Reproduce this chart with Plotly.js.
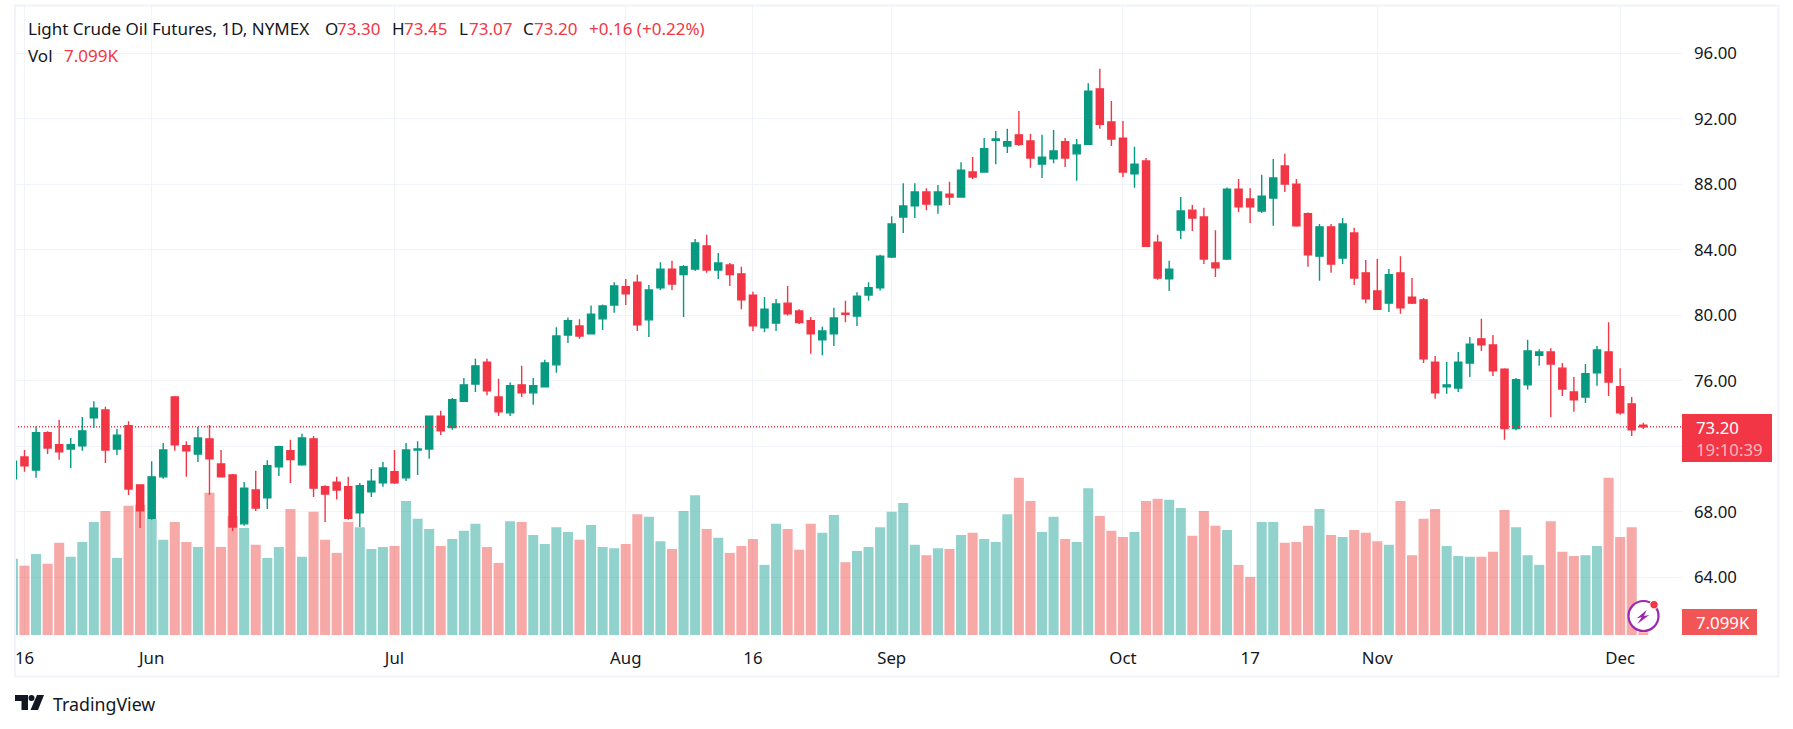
<!DOCTYPE html>
<html>
<head>
<meta charset="utf-8">
<script src="https://cdn.plot.ly/plotly-3.0.1.min.js"></script>
<style>html,body{margin:0;padding:0;background:#fff;overflow:hidden}#chart{width:1793px;height:729px}</style>
</head>
<body>
<div id="chart"></div>
<script>
const open = [70.02,71.36,70.56,72.83,72.10,71.84,72.04,73.74,74.22,71.84,73.26,69.65,67.61,70.14,75.02,72.04,71.53,72.46,70.93,70.25,67.27,69.34,68.86,70.76,71.73,70.88,72.46,69.54,69.82,69.54,67.95,69.23,69.77,70.45,70.08,71.78,71.84,73.85,73.15,74.76,75.81,77.15,75.02,74.05,75.76,75.27,75.64,76.98,78.80,79.36,78.88,79.79,
80.64,81.75,82.03,79.73,81.69,82.83,82.49,82.83,84.25,82.77,83.08,82.54,81.24,79.25,79.53,80.75,80.27,79.68,78.51,78.88,80.13,79.96,81.24,81.69,83.57,86.01,86.69,87.54,86.75,87.40,87.23,88.76,88.76,90.69,90.35,91.03,90.66,89.24,89.56,90.61,89.87,90.46,93.84,91.82,90.83,88.65,89.44,84.47,82.23,85.21,86.43,86.01,
83.20,83.45,87.71,87.11,86.38,87.17,89.13,88.02,86.21,83.62,85.41,83.51,85.04,82.60,81.49,80.75,82.60,81.12,80.95,77.15,75.64,75.56,77.09,78.57,78.20,76.72,73.09,75.76,77.57,77.77,76.78,75.33,75.02,76.50,77.77,75.64,74.60,73.30];
const high = [71.10,71.78,73.23,72.92,73.63,72.52,73.80,74.76,74.42,73.06,73.54,69.68,71.10,72.21,75.08,72.32,73.20,73.31,71.78,70.31,69.82,70.51,71.16,72.04,72.41,72.78,72.64,69.63,70.14,70.14,69.77,70.62,71.05,71.78,72.21,72.32,73.88,74.17,74.96,76.18,77.35,77.35,76.13,75.90,76.92,76.18,77.29,79.28,79.87,79.76,80.61,80.67,
82.03,82.23,82.49,81.86,83.25,83.34,83.08,84.67,84.93,83.82,83.20,82.97,81.44,81.12,81.01,81.80,80.38,79.90,79.31,80.47,80.90,81.41,82.03,83.71,86.06,88.08,88.08,87.77,87.97,88.16,89.36,89.67,90.83,91.26,91.40,92.48,91.09,91.03,91.32,90.83,90.78,94.18,95.06,93.10,91.88,90.30,89.61,84.93,83.34,87.23,86.75,86.57,
85.21,87.82,88.34,87.77,88.59,89.56,89.87,88.34,86.29,85.58,85.58,85.95,85.35,83.39,83.45,82.83,83.62,82.29,81.07,77.52,77.15,77.77,78.68,79.79,78.80,76.78,76.18,78.51,77.94,78.00,77.09,76.24,77.03,78.14,79.59,76.78,75.02,73.45];
const low = [70.02,70.45,70.08,71.53,71.19,70.68,71.73,73.12,70.99,71.47,69.03,67.01,67.52,70.02,71.73,70.14,71.05,69.03,70.14,66.84,67.15,68.06,68.18,70.19,69.77,70.82,68.91,67.38,68.75,67.52,67.07,68.91,69.54,69.71,69.88,70.25,71.24,72.69,73.01,74.71,75.33,75.13,73.85,73.85,75.02,74.54,75.64,76.50,78.31,78.57,78.88,79.11,
80.16,80.64,79.05,78.68,81.55,81.55,79.90,82.71,82.60,82.23,81.80,80.38,79.05,78.99,79.05,79.99,79.48,77.66,77.57,78.14,79.59,79.36,80.90,81.52,83.51,85.04,85.95,86.43,86.21,86.75,87.23,88.34,88.71,89.24,89.92,90.35,89.02,88.39,89.30,89.07,88.22,90.41,91.40,90.35,88.45,87.80,84.22,82.18,81.49,84.67,85.15,83.14,
82.34,83.39,86.32,85.64,86.26,85.47,87.54,85.41,82.97,82.12,82.60,83.14,81.86,80.75,80.36,80.21,80.10,80.70,77.09,74.91,75.22,75.33,76.24,77.83,76.30,72.41,72.98,75.47,76.92,73.80,75.08,74.11,74.65,75.70,75.08,73.94,72.64,73.07];
const close = [71.10,70.82,72.83,71.90,71.67,72.10,72.95,74.34,71.78,72.69,69.40,68.06,70.14,71.78,72.10,71.73,72.52,71.24,70.14,67.07,69.45,68.24,70.82,71.98,71.19,72.52,69.45,69.09,69.34,67.61,69.60,69.88,70.68,69.77,71.78,71.84,73.85,72.95,74.85,75.76,76.92,75.39,74.11,75.70,75.27,75.70,77.09,78.74,79.68,78.74,80.07,80.58,
81.80,81.32,79.42,81.55,82.83,81.92,82.97,84.42,82.77,83.20,82.49,80.95,79.36,80.38,80.70,80.10,79.56,78.88,79.05,79.85,80.07,81.18,81.69,83.62,85.58,86.69,87.54,86.80,87.54,87.23,88.87,88.45,90.18,90.78,90.61,90.46,89.61,89.67,90.04,89.61,90.41,93.70,91.68,90.78,88.76,89.24,84.22,82.29,82.83,86.38,85.95,83.45,
82.91,87.71,86.63,86.63,87.28,88.39,88.02,85.47,83.71,85.41,83.14,85.58,82.29,81.01,80.38,82.49,80.47,80.75,77.35,75.27,75.76,77.15,78.25,78.20,76.61,73.09,76.07,77.83,77.77,77.03,75.50,74.85,76.44,77.89,75.93,74.05,73.01,73.20];
const volumeK = [197,179,209,184,238,202,240,292,320,199,334,336,300,246,292,240,227,367,227,307,276,233,199,227,325,202,318,246,212,292,278,222,227,230,346,300,274,230,248,269,287,227,186,294,292,258,235,278,266,246,284,227,
224,235,312,305,242,222,320,361,274,251,212,230,248,181,287,274,220,287,264,310,188,217,227,278,318,341,233,206,224,222,258,264,248,240,312,406,346,266,305,248,240,379,307,269,253,266,346,352,349,328,256,320,
282,271,181,150,292,292,238,240,282,325,258,253,271,264,242,233,346,206,300,325,230,204,202,202,215,323,278,206,181,294,215,204,206,230,406,253,278,7.099];
const timeTickPositions = [1,12,33,53,64,76,96,107,118,139];
const timeTickLabels = ['16','Jun','Jul','Aug','16','Sep','Oct','17','Nov','Dec'];
const priceTicks = [64,68,72,76,80,84,88,92,96];
const priceTickLabels = ['64.00','68.00','','76.00','80.00','84.00','88.00','92.00','96.00'];
const lastPrice = 73.20;

const UP='#089981', DOWN='#f23645', GRID='#f0f3fa', INK='#131722', FONT='"Noto Sans", sans-serif';
const W=1793,H=729,L=15,R=1682,T=6,B=635;
const px=x=>(x-L)/(R-L), py=y=>(B-y)/(B-T);
const idx=close.map((_,i)=>i);
const P=(pts,closed=true)=>pts.map((p,i)=>(i?'L':'M')+px(p[0]).toFixed(5)+','+py(p[1]).toFixed(5)).join(' ')+(closed?' Z':'');
const paperShape=o=>Object.assign({xref:'paper',yref:'paper'},o);
const rect=(x0,y0,x1,y1,fill,line,w)=>paperShape({type:'rect',x0:px(x0),x1:px(x1),y0:py(y1),y1:py(y0),fillcolor:fill,line:{color:line||fill,width:w===undefined?0:w}});
const circ=(cx,cy,r,fill,line,w)=>paperShape({type:'circle',x0:px(cx-r),x1:px(cx+r),y0:py(cy+r),y1:py(cy-r),fillcolor:fill,line:{color:line,width:w}});
const poly=(pts,fill)=>paperShape({type:'path',path:P(pts),fillcolor:fill,line:{width:0}});
const text=(x,y,t,color,size)=>({xref:'paper',yref:'paper',x:px(x-1.5),y:py(y),xanchor:'left',yanchor:'middle',showarrow:false,text:t,align:'left',font:{family:FONT,size:size||17,color:color}});

const traces=[
 {type:'bar',x:idx,y:volumeK,xaxis:'x',yaxis:'y',hoverinfo:'skip',
  marker:{color:close.map((c,i)=>c>=open[i]?'rgba(38,166,154,0.5)':'rgba(239,83,80,0.5)'),line:{width:0}}},
 {type:'candlestick',x:idx,open:open,high:high,low:low,close:close,xaxis:'x',yaxis:'y2',
  whiskerwidth:0,
  increasing:{line:{color:UP,width:1.4},fillcolor:UP},
  decreasing:{line:{color:DOWN,width:1.4},fillcolor:DOWN}}
];
const layout={
 width:W,height:H,margin:{l:L,r:W-R,t:T,b:H-B,pad:0},paper_bgcolor:'#fff',plot_bgcolor:'#fff',
 showlegend:false,bargap:0.13,boxgap:0.12,dragmode:false,
 font:{family:FONT,color:INK,size:17},
 xaxis:{type:'linear',range:[0.18,144.35],tickmode:'array',tickvals:timeTickPositions,ticktext:timeTickLabels,
  showgrid:true,gridcolor:GRID,gridwidth:1,zeroline:false,showline:false,ticks:'',ticklabelstandoff:11,
  rangeslider:{visible:false},tickfont:{family:FONT,size:16.8,color:INK}},
 yaxis:{range:[0,1624],visible:false,showgrid:false,zeroline:false,fixedrange:true},
 yaxis2:{overlaying:'y',side:'right',range:[60.48,98.9],tickmode:'array',tickvals:priceTicks,ticktext:priceTickLabels,
  showgrid:true,gridcolor:GRID,gridwidth:1,zeroline:false,showline:false,ticks:'',ticklabelstandoff:11,
  tickfont:{family:FONT,size:16.8,color:INK}},
 shapes:[
  {type:'line',xref:'paper',yref:'y2',x0:0,x1:1,y0:lastPrice,y1:lastPrice,line:{color:DOWN,width:1.3,dash:'1px,2px'}},
  rect(15,5.5,1778.5,676.5,'rgba(0,0,0,0)',GRID,2),
  rect(1682,414,1772,462,DOWN),
  rect(1682,609,1757,635,'#f25555'),
  circ(1643.5,616,15,'#ffffff','#9c27b0',2.2),
  circ(1654,604.7,4.2,DOWN,'#ffffff',1),
  poly([[1646.7,610],[1636.7,618.3],[1641.7,617.3],[1637.3,624],[1649.3,615],[1644,616]],'#9c27b0'),
  poly([[15,695],[28,695],[28,710],[21.5,710],[21.5,701],[15,701]],INK),
  circ(31.5,698,3,INK,INK,0),
  poly([[37,695],[44,695],[38,710],[30.5,710]],INK)
 ],
 annotations:[
  text(27,29,'Light Crude Oil Futures, 1D, NYMEX',INK),
  text(324,29,'O',INK),text(336,29,'73.30',DOWN),
  text(391,29,'H',INK),text(403,29,'73.45',DOWN),
  text(458.5,29,'L',INK),text(468,29,'73.07',DOWN),
  text(522,29,'C',INK),text(533,29,'73.20',DOWN),
  text(588.6,29,'+0.16 (+0.22%)',DOWN),
  text(27,55,'Vol',INK),text(63,55,'7.099K',DOWN),
  text(1695,427,'73.20','#ffffff',16.8),
  text(1695,449,'19:10:39','rgba(255,255,255,0.65)',16.8),
  text(1695,622,'7.099K','#ffffff',16.8),
  text(52,704,'TradingView',INK,17.8)
 ]
};
Plotly.newPlot('chart',traces,layout,{staticPlot:true,displayModeBar:false});
</script>
</body>
</html>
